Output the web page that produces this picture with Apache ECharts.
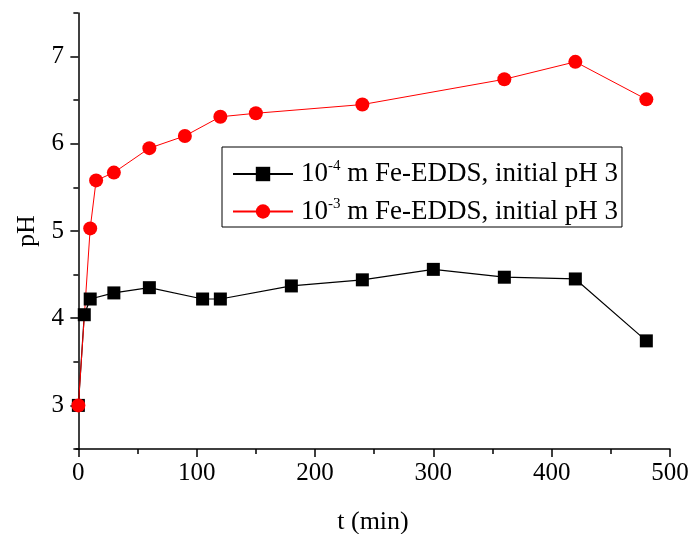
<!DOCTYPE html>
<html>
<head>
<meta charset="utf-8">
<script src="https://cdn.jsdelivr.net/npm/echarts@6/dist/echarts.min.js"></script>
<style>
  html, body { margin: 0; padding: 0; background: #fff; }
  #chart { width: 693px; height: 534px; }
</style>
</head>
<body>
<div id="chart"></div>
<script>
// t (min) and pH
const timeLow = [0, 5, 10, 30, 60, 105, 120, 180, 240, 300, 360, 420, 480];
const phLow = [3.0, 4.04, 4.22, 4.29, 4.35, 4.22, 4.22, 4.37, 4.44, 4.56, 4.47, 4.45, 3.74];

const timeHigh = [0, 10, 15, 30, 60, 90, 120, 150, 240, 360, 420, 480];
const phHigh = [3.0, 5.03, 5.58, 5.67, 5.95, 6.09, 6.31, 6.35, 6.45, 6.74, 6.94, 6.51];

const seriesNames = ['low', 'high'];
const exponents = ['-4', '-3'];
const legendTail = ' m Fe-EDDS, initial pH 3';

const xTicks = [0, 100, 200, 300, 400, 500];
const xMinorTicks = [50, 150, 250, 350, 450];
const yTicks = [3, 4, 5, 6, 7];
const yMinorTicks = [2.5, 3.5, 4.5, 5.5, 6.5, 7.5];

const FONT = '"Liberation Serif", "Times New Roman", serif';
const COLORS = { LOW: '#000000', HIGH: '#ff0000', AXIS: '#000000' };

const pairs = (xs, ys) => xs.map((x, i) => [x, ys[i]]);

const axisBase = {
  type: 'value',
  splitLine: { show: false },
  axisLine: { show: true, lineStyle: { color: COLORS.AXIS, width: 1.5 } },
};

const chart = echarts.init(document.getElementById('chart'), null, { renderer: 'canvas' });

chart.setOption({
  animation: false,
  backgroundColor: '#ffffff',
  grid: { left: 76, right: 23, top: 13, bottom: 85, outerBoundsMode: 'none' },
  legend: {
    orient: 'vertical',
    left: 222,
    top: 147,
    padding: [12, 4, 2, 10],
    itemGap: 9,
    itemWidth: 60,
    itemHeight: 18,
    borderColor: '#000',
    borderWidth: 1,
    data: seriesNames,
    formatter: (name) => {
      const i = seriesNames.indexOf(name);
      return '{a|10}{s|' + exponents[i] + '}{a|' + legendTail + '}';
    },
    textStyle: {
      padding: [0, 0, 0, 3],
      rich: {
        a: { fontFamily: FONT, fontSize: 27, lineHeight: 30, color: '#000' },
        s: { fontFamily: FONT, fontSize: 15, lineHeight: 15, verticalAlign: 'top', color: '#000' },
      },
    },
  },
  xAxis: [
    {
      ...axisBase,
      min: -2,
      max: 500,
      name: 't (min)',
      nameLocation: 'middle',
      nameGap: 60,
      nameTextStyle: { fontFamily: FONT, fontSize: 26, color: '#000' },
      axisTick: { show: true, customValues: xTicks, length: 8, lineStyle: { color: COLORS.AXIS, width: 1.5 } },
      axisLabel: { customValues: xTicks, margin: 12, fontFamily: FONT, fontSize: 25, color: '#000' },
    },
    {
      ...axisBase,
      min: -2,
      max: 500,
      position: 'bottom',
      axisLine: { show: false },
      axisLabel: { show: false },
      axisTick: { show: true, customValues: xMinorTicks, length: 5, lineStyle: { color: COLORS.AXIS, width: 1.5 } },
    },
  ],
  yAxis: [
    {
      ...axisBase,
      min: 2.5,
      max: 7.5,
      name: 'pH',
      nameLocation: 'middle',
      nameGap: 36,
      nameTextStyle: { fontFamily: FONT, fontSize: 26, color: '#000' },
      axisTick: { show: true, customValues: yTicks, length: 8, lineStyle: { color: COLORS.AXIS, width: 1.5 } },
      axisLabel: { customValues: yTicks, margin: 12, fontFamily: FONT, fontSize: 25, color: '#000' },
    },
    {
      ...axisBase,
      min: 2.5,
      max: 7.5,
      position: 'left',
      axisLine: { show: false },
      axisLabel: { show: false },
      axisTick: { show: true, customValues: yMinorTicks, length: 5, lineStyle: { color: COLORS.AXIS, width: 1.5 } },
    },
  ],
  series: [
    {
      name: seriesNames[0],
      type: 'line',
      data: pairs(timeLow, phLow),
      symbol: 'rect',
      symbolSize: 13,
      itemStyle: { color: COLORS.LOW },
      lineStyle: { color: COLORS.LOW, width: 1.2 },
    },
    {
      name: seriesNames[1],
      type: 'line',
      data: pairs(timeHigh, phHigh),
      symbol: 'circle',
      symbolSize: 14,
      itemStyle: { color: COLORS.HIGH },
      lineStyle: { color: COLORS.HIGH, width: 1 },
    },
  ],
});
</script>
</body>
</html>
